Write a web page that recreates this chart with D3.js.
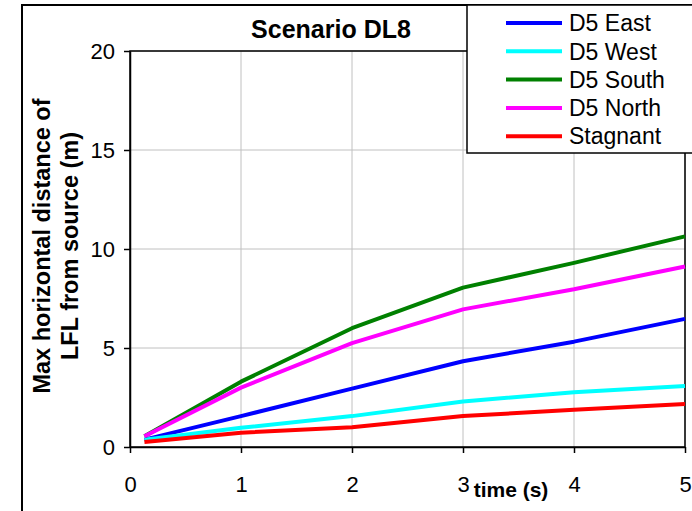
<!DOCTYPE html>
<html>
<head>
<meta charset="utf-8">
<script src="https://cdn.jsdelivr.net/npm/d3@7"></script>
<style>
  body { margin: 0; background: #fff; }
  svg { display: block; font-family: "Liberation Sans", Arial, sans-serif; }
</style>
</head>
<body>
<div id="canvas"></div>
<script>
// data
let times = [0.13, 1, 2, 3, 4, 5];
let seriesNames = ["D5 East", "D5 West", "D5 South", "D5 North", "Stagnant"];
let seriesColors = ["#0000ff", "#00ffff", "#008000", "#ff00ff", "#ff0000"];
let east = [0.37, 1.56, 2.95, 4.33, 5.32, 6.47];
let west = [0.37, 0.97, 1.56, 2.3, 2.76, 3.08];
let south = [0.54, 3.3, 6.0, 8.05, 9.3, 10.64];
let north = [0.54, 3.0, 5.25, 6.95, 7.97, 9.12];
let stagnant = [0.25, 0.72, 1.0, 1.56, 1.88, 2.17];
let seriesValues = [east, west, south, north, stagnant];
let xTicks = [0, 1, 2, 3, 4, 5];
let yTicks = [0, 5, 10, 15, 20];

let W = 692, H = 511;
let plot = { left: 130, right: 685, top: 51, bottom: 447 };

let svg = d3.select("#canvas").append("svg")
  .attr("width", W)
  .attr("height", H);

// outer chart frame
svg.append("rect")
  .attr("x", 22).attr("y", 5)
  .attr("width", 720).attr("height", 540)
  .attr("fill", "#fff")
  .attr("stroke", "#000")
  .attr("stroke-width", 2);

let x = d3.scaleLinear().domain([0, 5]).range([plot.left, plot.right]);
let y = d3.scaleLinear().domain([0, 20]).range([plot.bottom, plot.top]);

// gridlines
svg.append("g")
  .selectAll("line.vgrid")
  .data(xTicks.slice(1))
  .enter().append("line")
  .attr("x1", d => x(d)).attr("x2", d => x(d))
  .attr("y1", plot.top).attr("y2", plot.bottom)
  .attr("stroke", "#c0c0c0").attr("stroke-width", 1);

svg.append("g")
  .selectAll("line.hgrid")
  .data(yTicks.slice(1))
  .enter().append("line")
  .attr("x1", plot.left).attr("x2", plot.right)
  .attr("y1", d => y(d)).attr("y2", d => y(d))
  .attr("stroke", "#c0c0c0").attr("stroke-width", 1);

// plot area border
svg.append("rect")
  .attr("x", plot.left).attr("y", plot.top)
  .attr("width", plot.right - plot.left)
  .attr("height", plot.bottom - plot.top)
  .attr("fill", "none")
  .attr("stroke", "#000")
  .attr("stroke-width", 1.5);

// axes
let yAxis = svg.append("g")
  .attr("transform", "translate(" + plot.left + ",0)")
  .call(d3.axisLeft(y).tickValues(yTicks).tickFormat(d3.format("d"))
    .tickSize(6).tickSizeOuter(0).tickPadding(9));
let xAxis = svg.append("g")
  .attr("transform", "translate(0," + plot.bottom + ")")
  .call(d3.axisBottom(x).tickValues(xTicks).tickFormat(d3.format("d"))
    .tickSize(6).tickSizeOuter(0).tickPadding(23));

[xAxis, yAxis].forEach(a => {
  a.select(".domain").attr("stroke", "#000").attr("stroke-width", 1.5);
  a.selectAll(".tick line").attr("stroke", "#000").attr("stroke-width", 1.5);
  a.selectAll(".tick text")
    .attr("fill", "#000")
    .style("font-size", "22px")
    .style("font-family", "'Liberation Sans', Arial, sans-serif");
});

// lines
let line = d3.line()
  .x((d, i) => x(times[i]))
  .y(d => y(d));

svg.append("g")
  .selectAll("path.series")
  .data(seriesValues)
  .enter().append("path")
  .attr("class", "series")
  .attr("d", d => line(d))
  .attr("fill", "none")
  .attr("stroke", (d, i) => seriesColors[i])
  .attr("stroke-width", 4)
  .attr("stroke-linejoin", "round");

// title
svg.append("text")
  .attr("x", 331).attr("y", 38)
  .attr("text-anchor", "middle")
  .style("font-size", "25px")
  .style("font-weight", "bold")
  .text("Scenario DL8");

// y label
let yl = svg.append("text")
  .attr("transform", "translate(50,246) rotate(-90)")
  .attr("text-anchor", "middle")
  .style("font-size", "23.5px")
  .style("font-weight", "bold");
yl.append("tspan").attr("x", 0).attr("y", 0).text("Max horizontal distance of");
yl.append("tspan").attr("x", 0).attr("y", 28).text("LFL from source (m)");

// x label
svg.append("text")
  .attr("x", 511).attr("y", 497)
  .attr("text-anchor", "middle")
  .style("font-size", "21px")
  .style("font-weight", "bold")
  .text("time (s)");

// legend
let legend = svg.append("g");
legend.append("rect")
  .attr("x", 467).attr("y", 5)
  .attr("width", 240).attr("height", 148)
  .attr("fill", "#fff")
  .attr("stroke", "#000")
  .attr("stroke-width", 1.5);

let items = legend.selectAll("g.item")
  .data(seriesNames)
  .enter().append("g")
  .attr("class", "item")
  .attr("transform", (d, i) => "translate(0," + (23 + i * 28.3) + ")");

items.append("line")
  .attr("x1", 506).attr("x2", 562)
  .attr("y1", 0).attr("y2", 0)
  .attr("stroke", (d, i) => seriesColors[i])
  .attr("stroke-width", 4);

items.append("text")
  .attr("x", 569).attr("y", 0)
  .attr("dy", "0.36em")
  .style("font-size", "23px")
  .text(d => d);
</script>
</body>
</html>
